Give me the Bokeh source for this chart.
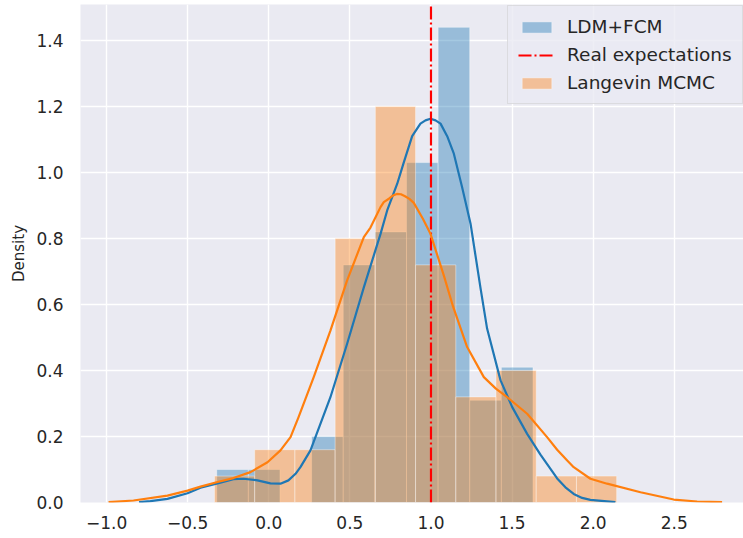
from bokeh.plotting import figure
from bokeh.models import Range1d, FixedTicker, Legend, LegendItem
from bokeh.embed import file_html
from bokeh.resources import INLINE

# ---- data ----
ldm_edges = [-0.321, -0.126, 0.069, 0.264, 0.459, 0.654, 0.849, 1.044, 1.239, 1.434, 1.629]
ldm_density = [0.10, 0.10, 0.0, 0.20, 0.72, 0.82, 1.03, 1.44, 0.31, 0.41]

mcmc_edges = [-0.335, -0.087, 0.161, 0.409, 0.657, 0.905, 1.153, 1.401, 1.649, 1.897, 2.145]
mcmc_density = [0.08, 0.16, 0.16, 0.80, 1.20, 0.72, 0.32, 0.40, 0.08, 0.08]

ldm_kde_x = [-0.80, -0.73, -0.625, -0.501, -0.421, -0.316, -0.218, -0.156, -0.070, 0.010, 0.072,
             0.121, 0.165, 0.195, 0.257, 0.380, 0.483, 0.586, 0.689, 0.730, 0.792, 0.832, 0.884,
             0.935, 0.966, 0.997, 1.028, 1.059, 1.100, 1.141, 1.192, 1.244, 1.306, 1.346, 1.429,
             1.501, 1.593, 1.675, 1.778, 1.829, 1.880, 1.932, 1.983, 2.137]
ldm_kde_y = [0.001, 0.004, 0.011, 0.028, 0.045, 0.058, 0.071, 0.072, 0.067, 0.058, 0.057,
             0.067, 0.087, 0.107, 0.158, 0.319, 0.481, 0.652, 0.814, 0.885, 0.966, 1.030, 1.110,
             1.148, 1.158, 1.163, 1.158, 1.148, 1.110, 1.057, 0.955, 0.845, 0.648, 0.527, 0.370,
             0.289, 0.208, 0.145, 0.073, 0.046, 0.026, 0.014, 0.008, 0.001]

mcmc_kde_x = [-0.988, -0.834, -0.625, -0.501, -0.421, -0.316, -0.218, -0.113, -0.008, 0.072,
              0.134, 0.183, 0.277, 0.380, 0.483, 0.586, 0.627, 0.689, 0.709, 0.745, 0.765, 0.790,
              0.815, 0.840, 0.867, 0.894, 0.950, 0.997, 1.079, 1.136, 1.223, 1.326, 1.400, 1.470,
              1.593, 1.716, 1.778, 1.840, 1.880, 1.983, 2.086, 2.292, 2.497, 2.641, 2.795]
mcmc_kde_y = [0.001, 0.006, 0.021, 0.036, 0.048, 0.062, 0.074, 0.092, 0.122, 0.158,
              0.198, 0.258, 0.380, 0.521, 0.673, 0.804, 0.833, 0.895, 0.910, 0.922, 0.930, 0.935,
              0.934, 0.928, 0.920, 0.908, 0.860, 0.814, 0.688, 0.594, 0.471, 0.380, 0.345, 0.319,
              0.269, 0.198, 0.160, 0.127, 0.107, 0.072, 0.057, 0.031, 0.009, 0.003, 0.001]

real_expectation = 1.0

x_ticks = [-1.0, -0.5, 0.0, 0.5, 1.0, 1.5, 2.0, 2.5]
x_tick_labels = ["\u22121.0", "\u22120.5", "0.0", "0.5", "1.0", "1.5", "2.0", "2.5"]
y_ticks = [0.0, 0.2, 0.4, 0.6, 0.8, 1.0, 1.2, 1.4]
y_tick_labels = ["0.0", "0.2", "0.4", "0.6", "0.8", "1.0", "1.2", "1.4"]

BLUE = "#1f77b4"
ORANGE = "#ff7f0e"
TXT = "#262626"

X_MIN, X_MAX = -1.161, 2.927
Y_MAX = 1.509

p = figure(width=743, height=538, output_backend="svg", toolbar_location=None,
           x_range=Range1d(X_MIN, X_MAX), y_range=Range1d(0, Y_MAX),
           min_border_left=80, min_border_right=0, min_border_top=4, min_border_bottom=36)
p.background_fill_color = "#EAEAF2"
p.border_fill_color = "white"
p.outline_line_color = None

for g in (p.xgrid, p.ygrid):
    g.grid_line_color = "white"
    g.grid_line_width = 1.4
p.xgrid.ticker = FixedTicker(ticks=x_ticks)
p.ygrid.ticker = FixedTicker(ticks=y_ticks)

for ax in (p.xaxis, p.yaxis):
    ax.axis_line_color = None
    ax.major_tick_line_color = None
    ax.minor_tick_line_color = None
    ax.major_tick_out = 0
    ax.major_tick_in = 0
    ax.major_label_text_font = "DejaVu Sans"
    ax.major_label_text_font_size = "17px"
    ax.major_label_text_color = TXT

p.xaxis.ticker = FixedTicker(ticks=x_ticks)
p.xaxis.major_label_overrides = {t: l for t, l in zip(x_ticks, x_tick_labels)}
p.xaxis.major_label_standoff = 13
p.yaxis.ticker = FixedTicker(ticks=y_ticks)
p.yaxis.major_label_overrides = {t: l for t, l in zip(y_ticks, y_tick_labels)}
p.yaxis.major_label_standoff = 17
p.yaxis.axis_label = "Density"
p.yaxis.axis_label_text_font = "DejaVu Sans"
p.yaxis.axis_label_text_font_size = "15px"
p.yaxis.axis_label_text_font_style = "normal"
p.yaxis.axis_label_text_color = TXT
p.yaxis.axis_label_standoff = 5

# patches first (as matplotlib zorder 1), then lines
blue_q = p.quad(left=ldm_edges[:-1], right=ldm_edges[1:], bottom=0, top=ldm_density,
                fill_color=BLUE, fill_alpha=0.4, line_color="white", line_alpha=0.4, line_width=1)
orange_q = p.quad(left=mcmc_edges[:-1], right=mcmc_edges[1:], bottom=0, top=mcmc_density,
                  fill_color=ORANGE, fill_alpha=0.4, line_color="white", line_alpha=0.4, line_width=1)

p.line(ldm_kde_x, ldm_kde_y, line_color=BLUE, line_width=2.2, line_join="round")
red = p.segment(x0=[real_expectation], y0=[0], x1=[real_expectation], y1=[Y_MAX],
                line_color="red", line_width=2.2, line_dash="13 3 2 3")
p.line(mcmc_kde_x, mcmc_kde_y, line_color=ORANGE, line_width=2.2, line_join="round")

legend = Legend(items=[LegendItem(label="LDM+FCM", renderers=[blue_q]),
                       LegendItem(label="Real expectations", renderers=[red]),
                       LegendItem(label="Langevin MCMC", renderers=[orange_q])],
                location=(427, 398))
legend.background_fill_color = "#EAEAF2"
legend.background_fill_alpha = 0.8
legend.border_line_color = "#cccccc"
legend.border_line_width = 1
legend.label_text_font = "DejaVu Sans"
legend.label_text_font_size = "18.5px"
legend.label_text_color = TXT
legend.glyph_width = 37
legend.glyph_height = 14
legend.label_standoff = 12
legend.spacing = 7
legend.padding = 10
legend.margin = 0
p.add_layout(legend)

open("out.html", "w").write(file_html(p, INLINE))
